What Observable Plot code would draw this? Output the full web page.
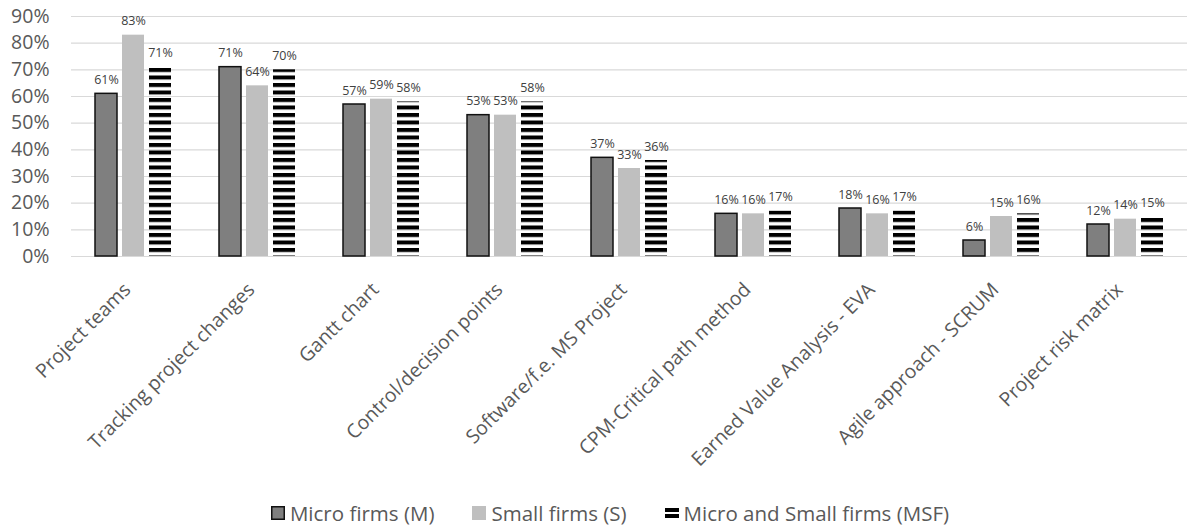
<!DOCTYPE html>
<html><head><meta charset="utf-8">
<script src="https://cdn.jsdelivr.net/npm/d3@7"></script>
<script src="https://cdn.jsdelivr.net/npm/@observablehq/plot@0.6"></script>
<style>
body{margin:0;background:#fff;font-family:"Open Sans",sans-serif;}
#chart svg{display:block;}
#legend{display:flex;justify-content:center;align-items:center;height:26px;padding-top:20px;gap:38px;color:#595959;font-size:20.5px;font-family:"Open Sans",sans-serif;padding-left:32px;}
#legend .item{display:flex;align-items:center;gap:5px;}
</style></head><body><div id="chart"></div><div id="legend"></div><script>
const categories = ["Project teams","Tracking project changes","Gantt chart","Control/decision points","Software/f.e. MS Project","CPM-Critical path method","Earned Value Analysis - EVA","Agile approach - SCRUM","Project risk matrix"];
const series = ["Micro firms (M)","Small firms (S)","Micro and Small firms (MSF)"];
const micro = [61,71,57,53,37,16,18,6,12];
const small = [83,64,59,53,33,16,16,15,14];
const msf = [71,70,58,58,36,17,17,16,15];
const yTicks = [0,10,20,30,40,50,60,70,80,90];

const seriesValues = [micro, small, msf];
const data = categories.flatMap((c,i)=>series.map((s,j)=>({category:c, series:s, value:seriesValues[j][i]})));
const fills = ["#7f7f7f","#bfbfbf","url(#stripes)"];

const svg = Plot.plot({
  width:1188, height:480,
  marginLeft:70, marginRight:0, marginTop:16, marginBottom:224,
  style:{fontFamily:"Open Sans, sans-serif", background:"#fff"},
  fx:{domain:categories, padding:0, label:null},
  x:{domain:series, padding:0.2, paddingOuter:0.842, axis:null},
  y:{domain:[0,90], axis:null},
  marks:[
    Plot.ruleY(yTicks, {y:d=>d, stroke:"#d9d9d9", strokeWidth:1.2}),
    Plot.axisY(yTicks, {tickSize:0, tickPadding:22, fontSize:19.5, fill:"#595959", tickFormat:d=>d+"%", label:null}),
    Plot.axisFx({anchor:"bottom", tickRotate:-45, tickSize:0, tickPadding:30, dx:-6, fontSize:19.5, fill:"#595959", label:null}),
    ...series.map((s,j)=>Plot.barY(data.filter(d=>d.series===s), {fx:"category", x:"series", y:"value", fill:fills[j], stroke: j===0?"#111":"none", strokeWidth:1.5})),
    Plot.text(data, {fx:"category", x:"series", y:"value", text:d=>d.value+"%", dy:-14, fontSize:12.5, fill:"#404040"})
  ]
});
const ns="http://www.w3.org/2000/svg";
const defs=document.createElementNS(ns,"defs");
defs.innerHTML='<pattern id="stripes" patternUnits="userSpaceOnUse" width="10" height="7.5" y="0.5"><rect width="10" height="4" fill="#000"/></pattern>';
svg.prepend(defs);
document.getElementById("chart").append(svg);

const swatches = [
  '<svg width="14" height="14"><rect x="0.75" y="0.75" width="12.5" height="12.5" fill="#7f7f7f" stroke="#111" stroke-width="1.5"/></svg>',
  '<svg width="14" height="14"><rect width="14" height="14" fill="#bfbfbf"/></svg>',
  '<svg width="14" height="14"><rect y="2" width="14" height="4" fill="#000"/><rect y="8" width="14" height="4" fill="#000"/></svg>'
];
const legend=document.getElementById("legend");
series.forEach((s,j)=>{
  const it=document.createElement("div"); it.className="item";
  it.innerHTML=swatches[j]+'<span>'+s+'</span>';
  legend.append(it);
});
</script></body></html>
